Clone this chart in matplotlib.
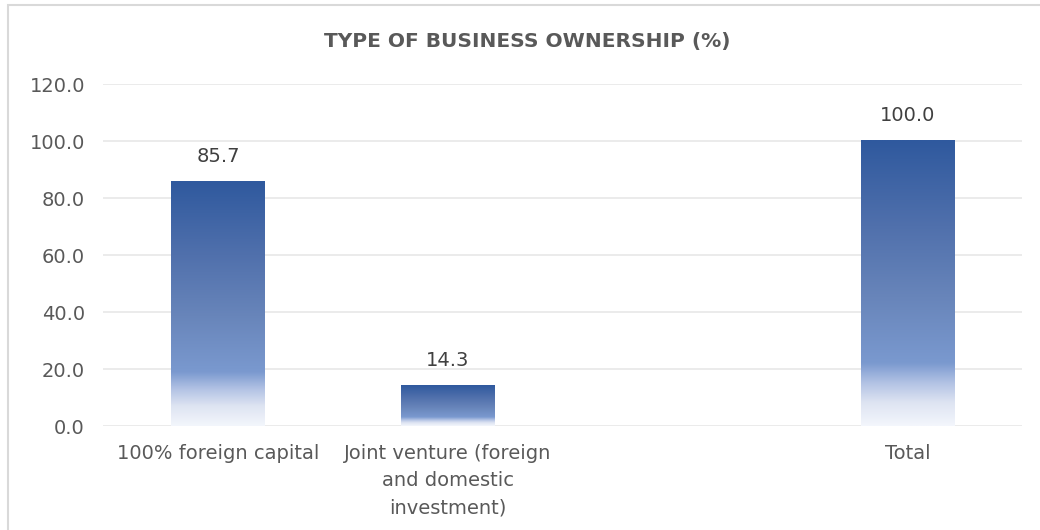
import numpy as np
import matplotlib
matplotlib.use("Agg")
import matplotlib.pyplot as plt
from matplotlib.colors import LinearSegmentedColormap
from matplotlib.patches import Rectangle

# ownership shares (%), third slot is an empty category
categories = ["100% foreign capital", "Joint venture (foreign\nand domestic\ninvestment)", "", "Total"]
shares = [85.7, 14.3, np.nan, 100.0]
yticks = [0, 20, 40, 60, 80, 100, 120]
title = "TYPE OF BUSINESS OWNERSHIP (%)"

plt.rcParams["font.family"] = ["DejaVu Sans"]

# vertical fill: pale at the base, deep blue at the top
fill = LinearSegmentedColormap.from_list("bar_fill", [
    (0.00, (243/255, 246/255, 252/255)),
    (0.08, (222/255, 228/255, 242/255)),
    (0.15, (178/255, 194/255, 228/255)),
    (0.22, (122/255, 153/255, 207/255)),
    (0.45, (104/255, 133/255, 186/255)),
    (0.70, (80/255, 112/255, 172/255)),
    (1.00, (47/255, 89/255, 158/255)),
])

fig = plt.figure(figsize=(10.4, 5.3), dpi=100)
ax = fig.add_axes([0.099, 0.196, 0.884, 0.6455])

# light frame around the chart area
fig.patches.append(Rectangle((8/1040, -0.2), 1.2, 1.2 - 5/530,
                             transform=fig.transFigure, fill=False,
                             edgecolor="#D9D9D9", linewidth=1.5))

x = np.arange(len(categories))
bars = ax.bar(x, np.nan_to_num(shares), width=0.405, color="none", zorder=3)

grad = np.linspace(0, 1, 256).reshape(-1, 1)
for b, v in zip(bars, shares):
    if np.isnan(v):
        continue
    x0, w, h = b.get_x(), b.get_width(), b.get_height()
    ax.imshow(grad, cmap=fill, origin="lower", aspect="auto",
              extent=(x0, x0 + w, 0, h), zorder=3, interpolation="bilinear")
    ax.text(x0 + w / 2, h + 5.5, f"{v:.1f}", ha="center", va="bottom",
            fontsize=14, color="#404040")

ax.set_xlim(-0.5, len(categories) - 0.5)
ax.set_ylim(0, 120)
ax.set_yticks(yticks)
ax.set_yticklabels([f"{t:.1f}" for t in yticks], fontsize=14, color="#595959")
ax.set_xticks(x)
ax.set_xticklabels(categories, fontsize=14, color="#595959", linespacing=1.55, va="top")
ax.tick_params(axis="both", length=0)
ax.tick_params(axis="y", pad=13)
ax.tick_params(axis="x", pad=13)
ax.grid(axis="y", color="#EBEBEB", linewidth=1.4, zorder=0)
ax.set_axisbelow(True)
for s in ax.spines.values():
    s.set_visible(False)

fig.text(0.507, 0.921, title, ha="center", va="center", fontsize=14.5,
         fontweight="bold", color="#595959")

fig.savefig("out.png", dpi=100)
